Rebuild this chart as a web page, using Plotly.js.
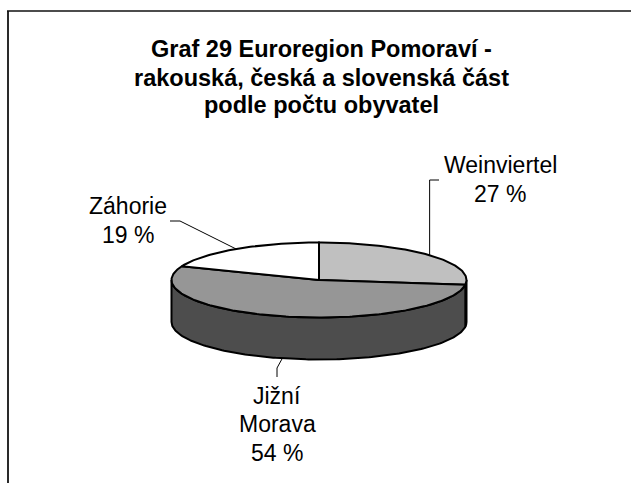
<!DOCTYPE html>
<html><head><meta charset="utf-8">
<script src="https://cdn.plot.ly/plotly-3.0.1.min.js"></script>
<style>html,body{margin:0;padding:0;background:#fff}#chart{width:631px;height:483px}</style>
</head><body><div id="chart"></div>
<script>
// ---- data ----
const titleLines = ["Graf 29 Euroregion Pomoraví -", "rakouská, česká a slovenská část", "podle počtu obyvatel"];
const categories = ["Weinviertel", "Jižní Morava", "Záhorie"];
const labelLines = [["Weinviertel"], ["Jižní", "Morava"], ["Záhorie"]];
const values = [27, 54, 19];
const topColors = ["#C0C0C0", "#969696", "#FFFFFF"];
const sideColors = ["#7A7A7A", "#4D4D4D", "#A0A0A0"];

// ---- geometry / style ----
const CX = 319, CY = 280, RX = 147.5, RY = 37.5, DEPTH = 42;
const FONT = "Liberation Sans, Arial, sans-serif";
function pt(deg, dy) { const r = deg * Math.PI / 180; return [CX + RX * Math.sin(r), CY - RY * Math.cos(r) + (dy || 0)]; }

const total = values.reduce((a, b) => a + b, 0);
let start = 0; const slices = [];
values.forEach(v => { const a = start, b = start + v / total * 360; slices.push({a, b, mid: (a + b) / 2}); start = b; });

const traces = [];
// side walls (front half only)
slices.forEach((s, i) => {
  const a = Math.max(s.a, 90), b = Math.min(s.b, 270);
  if (b <= a) return;
  const xs = [], ys = [];
  const n = Math.max(2, Math.ceil(b - a));
  for (let k = 0; k <= n; k++) { const p = pt(a + (b - a) * k / n); xs.push(p[0]); ys.push(p[1]); }
  for (let k = n; k >= 0; k--) { const p = pt(a + (b - a) * k / n, DEPTH); xs.push(p[0]); ys.push(p[1]); }
  xs.push(xs[0]); ys.push(ys[0]);
  traces.push({type: 'scatter', x: xs, y: ys, mode: 'lines', fill: 'toself', fillcolor: sideColors[i],
    line: {color: '#000', width: 2}, hoverinfo: 'skip', showlegend: false});
});
// top faces
slices.forEach((s, i) => {
  const xs = [CX], ys = [CY];
  const n = Math.max(2, Math.ceil(s.b - s.a));
  for (let k = 0; k <= n; k++) { const p = pt(s.a + (s.b - s.a) * k / n); xs.push(p[0]); ys.push(p[1]); }
  xs.push(CX); ys.push(CY);
  traces.push({type: 'scatter', x: xs, y: ys, mode: 'lines', fill: 'toself', fillcolor: topColors[i],
    line: {color: '#000', width: 2}, hoverinfo: 'skip', showlegend: false, name: categories[i]});
});

// label placement (positions only)
const labelPos = [
  {x: 500, ys: [164.5, 193.5], leader: (p) => [[p[0], p[1]], [p[0], 180], [439, 180]], onBottom: false},
  {x: 277, ys: [396.3, 423.7, 452.7], leader: (p) => [[p[0], p[1]], [277, 368], [277, 377]], onBottom: true},
  {x: 127.5, ys: [206.3, 235.3], leader: (p) => [[p[0], p[1]], [180, 221], [170, 221]], onBottom: false}
];

const annotations = [];
slices.forEach((s, i) => {
  const lp = labelPos[i];
  const anchor = pt(s.mid, lp.onBottom ? DEPTH : 0);
  const path = lp.leader(anchor);
  traces.push({type: 'scatter', x: path.map(q => q[0]), y: path.map(q => q[1]), mode: 'lines',
    line: {color: '#000', width: 1}, hoverinfo: 'skip', showlegend: false});
  const lines = labelLines[i].concat([Math.round(values[i] / total * 100) + " %"]);
  lines.forEach((t, j) => {
    annotations.push({x: lp.x, y: lp.ys[j], xref: 'x', yref: 'y', text: t, showarrow: false,
      xanchor: 'center', yanchor: 'middle', font: {family: FONT, size: 23, color: '#000'}});
  });
});

const titleYs = [49.2, 77.9, 104.6];
titleLines.forEach((t, j) => {
  annotations.push({x: 321.5, y: titleYs[j], xref: 'x', yref: 'y', text: '<b>' + t + '</b>', showarrow: false,
    xanchor: 'center', yanchor: 'middle', font: {family: FONT, size: 23.5, color: '#000'}});
});

const layout = {
  width: 631, height: 483, margin: {l: 0, r: 0, t: 0, b: 0},
  paper_bgcolor: '#fff', plot_bgcolor: '#fff',
  xaxis: {range: [0, 631], visible: false, fixedrange: true},
  yaxis: {range: [483, 0], visible: false, fixedrange: true},
  showlegend: false,
  annotations: annotations,
  shapes: [
    {type: 'line', xref: 'x', yref: 'y', x0: 8, y0: 11, x1: 8, y1: 483, line: {color: '#2a2a2a', width: 2}},
    {type: 'line', xref: 'x', yref: 'y', x0: 7, y0: 11, x1: 631, y1: 11, line: {color: '#111', width: 1.5}}
  ]
};
Plotly.newPlot('chart', traces, layout, {staticPlot: true, displayModeBar: false});
</script>
</body></html>
